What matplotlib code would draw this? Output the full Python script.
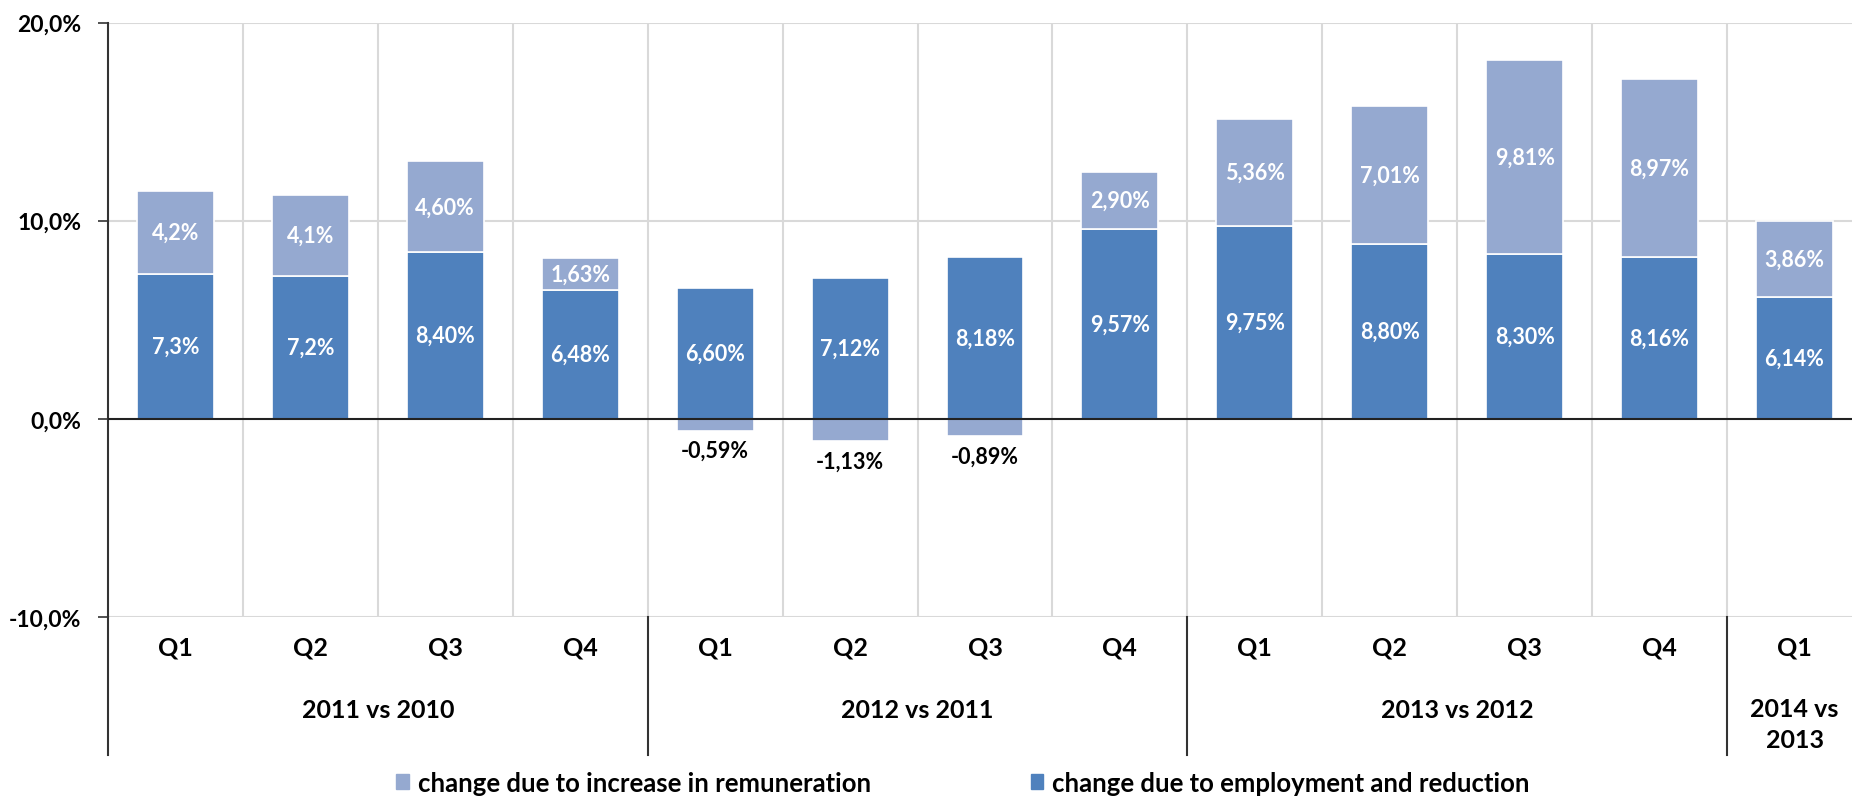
import numpy as np
import matplotlib.pyplot as plt
from matplotlib.lines import Line2D
from matplotlib.patches import Patch

plt.rcParams['font.family'] = ['Lato', 'DejaVu Sans']

# chart data (percent)
quarters = ["Q1", "Q2", "Q3", "Q4", "Q1", "Q2", "Q3", "Q4",
            "Q1", "Q2", "Q3", "Q4", "Q1"]
groups = ["2011 vs 2010", "2012 vs 2011", "2013 vs 2012", "2014 vs\n2013"]
group_sizes = [4, 4, 4, 1]
employment = [7.3, 7.2, 8.40, 6.48, 6.60, 7.12, 8.18, 9.57,
              9.75, 8.80, 8.30, 8.16, 6.14]
remuneration = [4.2, 4.1, 4.60, 1.63, -0.59, -1.13, -0.89, 2.90,
                5.36, 7.01, 9.81, 8.97, 3.86]
emp_labels = ["7,3%", "7,2%", "8,40%", "6,48%", "6,60%", "7,12%", "8,18%",
              "9,57%", "9,75%", "8,80%", "8,30%", "8,16%", "6,14%"]
rem_labels = ["4,2%", "4,1%", "4,60%", "1,63%", "-0,59%", "-1,13%", "-0,89%",
              "2,90%", "5,36%", "7,01%", "9,81%", "8,97%", "3,86%"]
legend_labels = ["change due to increase in remuneration",
                 "change due to employment and reduction"]

DARK = "#4F81BD"
LIGHT = "#95A9D0"
GRID = "#D9D9D9"


def plot_chart():
    fig = plt.figure(figsize=(18.52, 8.03), dpi=100)
    # axes runs a bit past the right edge, like the cropped original
    ax = fig.add_axes([108 / 1852, 185 / 803, 1754 / 1852, 594.5 / 803])

    x = np.arange(len(quarters))
    emp = np.array(employment)
    rem = np.array(remuneration)
    w = 0.57

    ax.bar(x, emp, w, color=DARK, edgecolor="white", linewidth=1.2, zorder=3)
    rem_bottom = np.where(rem >= 0, emp, 0)
    ax.bar(x, rem, w, bottom=rem_bottom, color=LIGHT, edgecolor="white",
           linewidth=1.2, zorder=3)

    # labels
    for i in x:
        ax.text(i, emp[i] / 2, emp_labels[i], ha="center", va="center",
                color="white", fontsize=15.5, fontweight="bold", zorder=4)
        if rem[i] >= 0:
            ax.text(i, emp[i] + rem[i] / 2, rem_labels[i], ha="center",
                    va="center", color="white", fontsize=15.5,
                    fontweight="bold", zorder=4)
        else:
            ax.text(i, rem[i] - 1.0, rem_labels[i], ha="center", va="center",
                    color="black", fontsize=15.5, fontweight="bold", zorder=4)

    ax.set_xlim(-0.5, len(quarters) - 0.5)
    ax.set_ylim(-10, 20)
    ax.set_yticks([-10, 0, 10, 20])
    ax.set_yticklabels([f"{v:.1f}%".replace(".", ",") for v in [-10, 0, 10, 20]],
                       fontsize=16.5, fontweight="bold")
    ax.tick_params(axis="y", length=7, width=1.2, color="#333333", pad=12)
    ax.set_xticks([])

    # grid
    for v in [-10, 10, 20]:
        ax.axhline(v, color=GRID, lw=1.5, zorder=1)
    for b in np.arange(0.5, len(quarters) - 0.5, 1):
        ax.axvline(b, color=GRID, lw=1.5, zorder=1)
    ax.axhline(0, color="#222222", lw=1.5, zorder=5)

    for s in ["top", "right", "bottom"]:
        ax.spines[s].set_visible(False)
    ax.spines["left"].set_color("#333333")
    ax.spines["left"].set_linewidth(1.5)

    # category labels under the axis
    trans = ax.get_xaxis_transform()
    for i, q in enumerate(quarters):
        ax.text(i, -0.05, q, transform=trans, ha="center", va="center",
                fontsize=18, fontweight="bold", clip_on=False)

    start = 0
    bounds = [-0.5]
    for g, n in zip(groups, group_sizes):
        centre = start + (n - 1) / 2
        ax.text(centre, -0.155 if "\n" not in g else -0.18, g,
                transform=trans, ha="center", va="center", fontsize=18,
                fontweight="bold", linespacing=1.45, clip_on=False)
        start += n
        bounds.append(start - 0.5)

    for b in bounds[:-1]:
        ax.add_line(Line2D([b, b], [0, -0.232], transform=trans,
                           color="#333333", lw=1.5, clip_on=False))

    handles = [Patch(color=LIGHT), Patch(color=DARK)]
    fig.legend(handles, legend_labels, loc="center", ncol=2,
               bbox_to_anchor=(0.52, 0.024), frameon=False,
               prop={"size": 18.5, "weight": "bold"}, handlelength=0.5,
               handleheight=0.5, handletextpad=0.35, columnspacing=6.2)

    fig.savefig("out.png", dpi=100)
    return fig


if __name__ == "__main__":
    plot_chart()
